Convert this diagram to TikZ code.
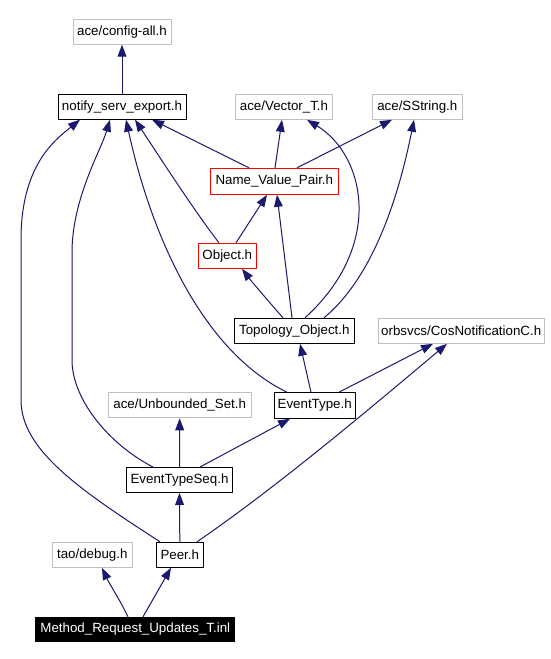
\documentclass[tikz,border=0pt]{standalone}
\usepackage{fontspec}
\setmainfont{Liberation Sans}
\usetikzlibrary{arrows.meta}
\definecolor{edgeblue}{HTML}{191970}
\definecolor{grayb}{HTML}{BFBFBF}
\tikzset{
  box/.style={draw=black, line width=0.75pt, inner sep=0pt, minimum height=18.75pt, font=\fontsize{10}{12}\selectfont, text=black},
  graybox/.style={box, draw=grayb},
  redbox/.style={box, draw=red},
  rootbox/.style={box, fill=black, text=white},
  edge/.style={draw=edgeblue, line width=0.75pt, -{Triangle[length=9pt,width=6.6pt]}, fill=none},
}
\begin{document}
\begin{tikzpicture}[x=0.75pt,y=-0.75pt]
\useasboundingbox (0,0) rectangle (550,659);
\node[graybox, minimum width={98*0.75pt}] (config) at (122,31.7) {ace/config-all.h};
\node[box, minimum width={128*0.75pt}] (notify) at (122,106.7) {notify\_serv\_export.h};
\node[graybox, minimum width={96.6*0.75pt}] (vector) at (284,106.8) {ace/Vector\_T.h};
\node[graybox, minimum width={90*0.75pt}] (sstring) at (417.3,106.8) {ace/SString.h};
\node[redbox, minimum width={128*0.75pt}, minimum height={26*0.75pt}] (nvp) at (274.3,181.3) {Name\_Value\_Pair.h};
\node[redbox, minimum width={58*0.75pt}] (object) at (227.3,255.8) {Object.h};
\node[box, minimum width={120*0.75pt}] (topo) at (294.3,330.8) {Topology\_Object.h};
\node[graybox, minimum width={165.7*0.75pt}] (cos) at (461.2,330.8) {orbsvcs/CosNotificationC.h};
\node[box, minimum width={81.3*0.75pt}, minimum height={25.6*0.75pt}] (etype) at (314.7,405.5) {EventType.h};
\node[graybox, minimum width={142.7*0.75pt}] (unb) at (179.7,405.3) {ace/Unbounded\_Set.h};
\node[box, minimum width={106*0.75pt}] (etseq) at (179.5,480) {EventTypeSeq.h};
\node[graybox, minimum width={80*0.75pt}] (debug) at (92.3,554.8) {tao/debug.h};
\node[box, minimum width={47*0.75pt}] (peer) at (179.8,554.8) {Peer.h};
\node[rootbox, minimum width={198.7*0.75pt}, minimum height={24.4*0.75pt}] (method) at (135.3,629.5) {Method\_Request\_Updates\_T.inl};

% edges
\draw[edge] (notify.north) -- (config.south);
\draw[edge] ([shift={(-25.3,0)}]nvp.north) -- ([shift={(30,0)}]notify.south);
\draw[edge] ([shift={(0.7,0)}]nvp.north) -- ([shift={(-2,0)}]vector.south);
\draw[edge] ([shift={(22.7,0)}]nvp.north) -- ([shift={(-25.3,0)}]sstring.south);
\draw[edge] ([shift={(-8.3,0)}]object.north) .. controls (195,212) and (155,150) .. ([shift={(13,0)}]notify.south);
\draw[edge] ([shift={(8.7,0)}]object.north) -- ([shift={(-7.3,0)}]nvp.south);
\draw[edge] ([shift={(-11.3,0)}]topo.north) .. controls (270,303) and (252,282) .. ([shift={(14.7,0)}]object.south);
\draw[edge] ([shift={(-2.3,0)}]topo.north) -- ([shift={(2.7,0)}]nvp.south);
\draw[edge] ([shift={(10.7,0)}]topo.north) .. controls (385,245) and (365,155) .. ([shift={(23,0)}]vector.south);
\draw[edge] ([shift={(29.7,0)}]topo.north) .. controls (372,278) and (398,200) .. ([shift={(-3.3,0)}]sstring.south);
\draw[edge] ([shift={(-3.7,0)}]etype.north) -- ([shift={(5.7,0)}]topo.south);
\draw[edge] ([shift={(24.3,0)}]etype.north) -- ([shift={(-28.2,0)}]cos.south);
\draw[edge] ([shift={(-27.7,0)}]etype.north) .. controls (200,350) and (150,230) .. ([shift={(4,0)}]notify.south);
\draw[edge] (etseq.north) -- (unb.south);
\draw[edge] ([shift={(20.5,0)}]etseq.north) -- ([shift={(-24.7,0)}]etype.south);
\draw[edge] ([shift={(-26.5,0)}]etseq.north) .. controls (110,445) and (72,400) .. (72,360) -- (72,250) .. controls (73,197) and (101,150) .. ([shift={(-12,0)}]notify.south);
\draw[edge] (peer.north) -- (etseq.south);
\draw[edge] ([shift={(17.2,0)}]peer.north) .. controls (280,485) and (380,400) .. ([shift={(-14.2,0)}]cos.south);
\draw[edge] ([shift={(-19.8,0)}]peer.north) .. controls (80,490) and (21,450) .. (21,400) -- (21,240) .. controls (21,165) and (55,140) .. ([shift={(-42,0)}]notify.south);
\draw[edge] ([shift={(-7.3,0)}]method.north) .. controls (120,600) and (110,585) .. ([shift={(9.7,0)}]debug.south);
\draw[edge] ([shift={(7.7,0)}]method.north) -- ([shift={(-8.8,0)}]peer.south);
\end{tikzpicture}
\end{document}
